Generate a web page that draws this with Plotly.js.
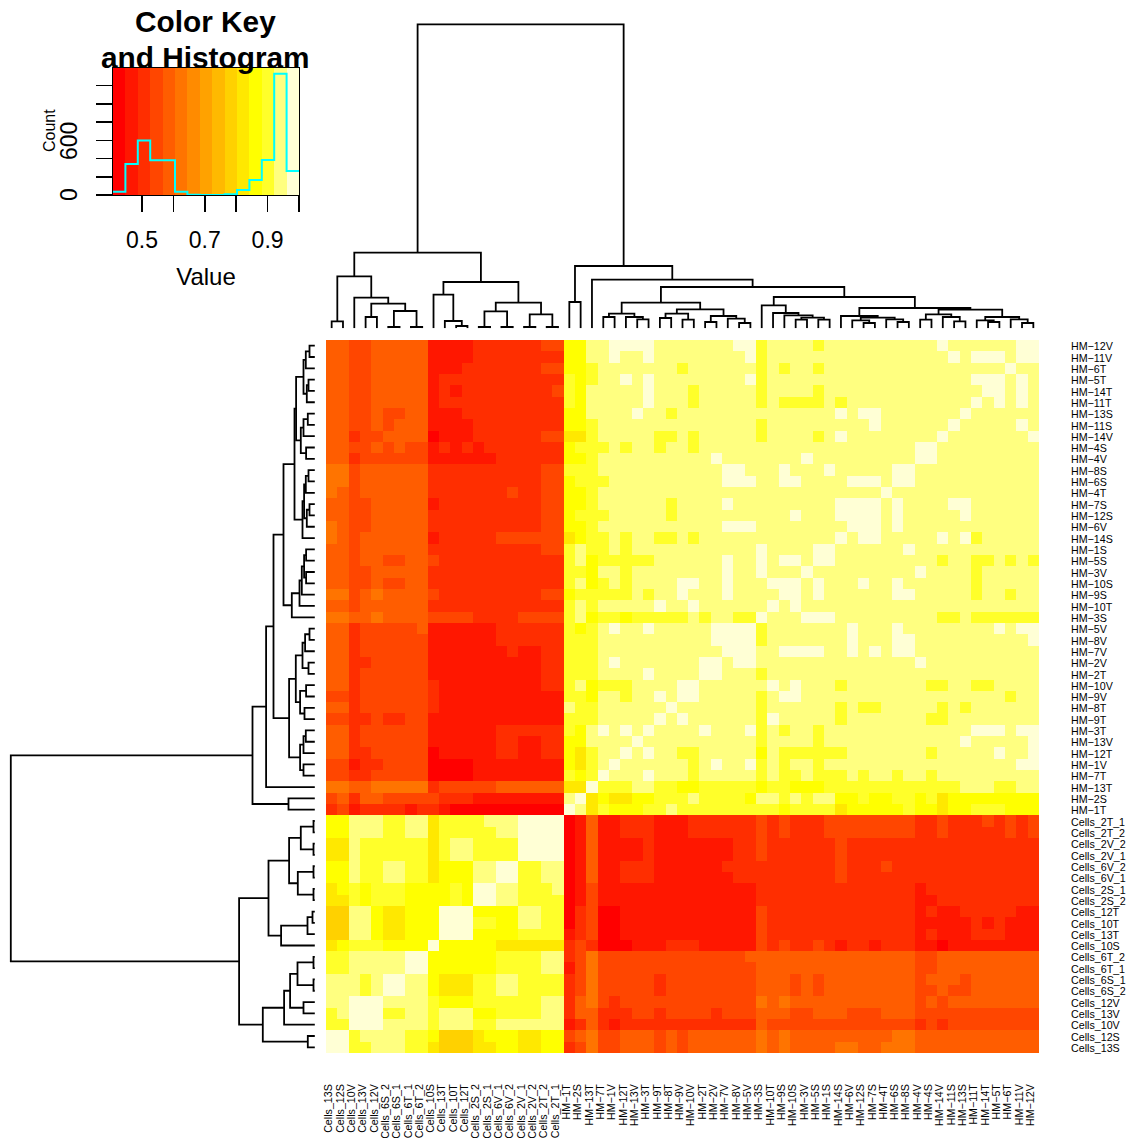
<!DOCTYPE html>
<html><head><meta charset="utf-8">
<script src="https://cdn.plot.ly/plotly-3.0.1.min.js"></script>
<style>html,body{margin:0;padding:0;background:#fff}</style>
</head><body><div id="chart" style="width:1137px;height:1138px"></div>
<script>
const rowLabels = ["HM−12V","HM−11V","HM−6T","HM−5T","HM−14T","HM−11T","HM−13S","HM−11S","HM−14V","HM−4S","HM−4V","HM−8S","HM−6S","HM−4T","HM−7S","HM−12S","HM−6V","HM−14S","HM−1S","HM−5S","HM−3V","HM−10S","HM−9S","HM−10T","HM−3S","HM−5V","HM−8V","HM−7V","HM−2V","HM−2T","HM−10V","HM−9V","HM−8T","HM−9T","HM−3T","HM−13V","HM−12T","HM−1V","HM−7T","HM−13T","HM−2S","HM−1T",
"Cells_2T_1","Cells_2T_2","Cells_2V_2","Cells_2V_1","Cells_6V_2","Cells_6V_1","Cells_2S_1","Cells_2S_2","Cells_12T","Cells_10T","Cells_13T","Cells_10S","Cells_6T_2","Cells_6T_1","Cells_6S_1","Cells_6S_2","Cells_12V","Cells_13V","Cells_10V","Cells_12S","Cells_13S"];
const colLabels = rowLabels.slice().reverse();

// heat.colors(15) bands of the key
const bandColors = ["#FF0000","#FF1700","#FF2E00","#FF4600","#FF5D00","#FF7400","#FF8B00","#FFA200","#FFB900","#FFD100","#FFE800","#FFFF00","#FFFF2A","#FFFF80","#FFFFD5"];
const keyMin = 0.4077, keyMax = 1.0;
const histCounts = [37,340,597,381,381,37,4,0,0,8,55,165,385,1330,264];

// Symmetric matrix: each row is "band:lastColumn" runs, up to the anti-diagonal
const bandRuns = [
"4:1 3:3 4:8 1:12 2:18 3:20 11:22 13:24 14:28 13:35 14:37 12:38 13:42 12:43 13:53 14:54 13:60 14:62",
"4:1 3:3 4:8 1:12 2:20 11:22 13:24 14:25 13:27 14:28 13:36 14:37 12:38 13:54 14:55 13:56 14:59 13:60 14:61",
"4:1 3:3 4:8 1:11 2:18 3:20 11:22 12:23 13:30 12:31 13:37 12:38 13:39 12:40 13:42 12:43 13:59 14:60",
"4:1 3:3 4:8 1:9 2:20 12:21 11:22 12:23 13:25 14:26 13:27 14:28 13:36 14:37 12:38 13:56 14:59",
"4:1 3:3 4:8 1:9 2:10 1:11 2:19 3:20 12:21 11:22 13:27 14:28 13:31 12:32 13:37 12:38 13:42 12:43 13:57 14:58",
"4:1 3:3 4:8 1:9 2:20 12:21 11:22 13:27 14:28 13:31 12:32 13:37 12:38 13:39 12:43 13:44 12:45 13:56 14:57",
"4:1 3:3 4:4 3:6 4:8 1:11 2:20 11:22 13:26 14:27 13:29 12:30 13:44 14:45 13:46 14:48 13:55 14:56",
"4:1 3:3 4:4 3:5 4:8 1:12 2:20 11:22 12:23 13:37 12:38 13:47 14:48 13:54 14:55",
"4:1 2:2 3:4 4:8 0:9 1:12 2:18 3:20 10:22 12:23 13:28 12:30 13:31 12:32 13:37 12:38 13:42 12:43 13:44 14:45 13:53 14:54",
"4:1 3:3 4:4 3:5 4:6 3:8 1:9 2:10 1:11 2:12 1:13 2:20 11:21 12:24 13:25 12:26 13:28 12:29 13:31 12:32 13:51 14:53",
"4:1 2:2 3:8 1:14 2:20 11:22 12:23 13:33 14:34 13:41 14:42 13:51 14:52",
"5:1 3:2 4:8 2:18 3:20 12:23 13:34 14:36 13:39 14:40 13:43 14:44 13:49 14:51",
"5:1 3:2 4:8 2:18 3:20 11:21 12:24 13:34 14:37 13:39 14:41 13:45 14:48 13:49 14:50",
"5:0 4:1 3:2 4:8 2:15 3:16 2:18 3:20 11:22 12:23 13:48 14:49",
"4:1 3:3 4:8 1:9 2:18 3:20 11:22 12:23 13:29 12:30 13:34 14:35 13:44 14:48",
"4:1 3:3 4:8 2:18 3:20 11:21 12:24 13:29 12:30 13:40 14:41 13:44 14:47",
"5:0 4:1 3:3 4:8 2:18 3:20 11:22 12:23 13:34 14:37 13:45 14:46",
"5:0 4:1 3:2 4:8 1:9 2:14 3:20 10:21 11:22 12:24 13:25 12:26 13:28 12:30 13:31 12:32 13:44 14:45",
"4:1 3:2 4:8 2:18 3:20 12:21 13:22 12:24 13:25 12:26 13:37 14:38 13:42 14:44",
"4:1 3:2 4:4 3:6 4:8 3:9 2:20 12:21 13:22 11:23 12:28 13:34 14:35 13:37 14:38 13:39 14:41 13:42 14:43",
"4:1 3:3 4:8 2:20 12:22 11:23 13:25 12:26 13:34 14:35 13:37 14:38 13:41 14:42",
"4:1 3:3 4:4 3:6 4:8 2:20 12:21 13:22 11:23 12:24 13:25 12:26 13:30 14:32 13:34 14:35 13:38 14:41",
"5:1 3:2 4:3 5:4 4:8 3:9 2:18 3:20 11:21 12:26 13:27 12:28 13:30 14:31 13:34 14:35 13:39 14:40",
"4:1 3:2 4:8 2:20 12:21 13:22 12:23 13:28 14:29 13:31 14:32 13:38 14:39",
"5:1 4:3 5:4 4:8 3:12 2:16 3:20 12:21 13:22 11:23 12:25 11:26 12:31 13:32 12:33 13:35 12:37 14:38",
"4:1 2:2 3:7 4:8 1:14 2:20 12:21 11:22 12:23 13:24 14:25 13:27 14:28 13:33 14:37",
"4:1 2:2 3:8 1:14 2:20 12:23 13:33 14:36",
"4:1 2:2 3:8 1:15 2:16 1:18 2:20 12:23 13:34 14:35",
"4:1 2:3 3:8 1:18 2:20 12:23 13:24 14:25 13:32 14:34",
"4:1 2:2 3:8 1:18 2:20 12:23 13:27 14:28 13:32 14:33",
"4:1 2:2 3:8 2:9 1:18 2:20 12:21 13:22 11:23 12:26 13:30 14:32",
"3:1 2:2 3:8 2:9 1:20 12:22 11:23 13:25 12:26 13:28 14:29 13:30 14:31",
"4:1 2:2 3:8 2:9 1:20 13:21 12:23 13:29 14:30",
"3:1 2:3 3:4 2:6 3:8 1:20 12:23 13:28 14:29",
"4:1 2:2 3:8 1:14 2:20 12:21 11:22 13:23 14:24 13:25 14:26 13:27 14:28",
"4:1 2:2 3:8 1:14 2:16 1:18 2:20 11:22 13:26 14:27",
"4:1 2:3 3:8 0:9 1:14 2:16 1:18 2:20 11:21 10:22 12:23 13:25 14:26",
"3:1 1:2 2:4 3:8 0:12 1:20 11:21 10:22 12:23 13:24 14:25",
"3:1 2:3 3:8 0:12 1:20 12:21 11:22 12:23 14:24",
"5:1 4:3 5:8 2:9 3:14 4:20 10:22 14:23",
"3:0 4:1 2:2 4:4 3:9 2:12 1:20 13:21 14:22",
"2:0 3:1 1:2 2:6 1:7 2:9 1:10 0:20 14:21",
"11:1 13:4 12:6 13:8 10:9 12:13 13:16 14:20",
"11:1 13:4 12:6 13:8 10:9 12:14 13:16 14:19",
"10:1 13:2 12:8 10:9 12:10 13:12 12:16 14:18",
"10:1 13:2 12:8 10:9 12:10 13:12 12:16 14:17",
"11:1 13:2 12:4 13:6 12:8 10:9 11:12 13:14 14:16",
"11:1 13:2 12:4 13:6 12:8 10:9 11:12 13:14 14:15",
"10:0 11:1 12:2 11:3 12:6 11:10 12:11 11:12 14:14",
"10:1 12:2 11:3 12:6 11:10 12:11 11:12 14:13",
"9:1 13:3 11:4 10:6 11:9 14:12",
"9:1 13:3 11:4 10:6 11:9 14:11",
"9:1 13:3 11:4 10:6 11:9 14:10",
"10:0 11:1 12:4 11:8 14:9",
"12:1 13:6 14:8",
"12:1 13:6 14:7",
"13:2 12:3 13:4 14:6",
"13:2 12:3 13:4 14:5",
"13:1 14:4",
"12:0 13:1 14:3",
"12:1 14:2",
"14:1",
"14:0"];

// Dendrogram (same tree for rows and columns): [height, left, right]; a leaf is a column index
const dendroLeft = [75.7,
  [52,[7,0,1],[30.7,2,[24.7,[11.3,3,4],[17.3,[1.3,5,6],[1.3,7,8]]]]],
  [46.3,[33.7,9,[7.3,10,[2.3,11,12]]],[25.7,[17,[1.3,13,14],[1.3,15,16]],[14,[1.3,17,18],[1.3,19,20]]]]];
const dendroGroupG = [14.7,[11.3,24,25],[11.3,26,[9,27,28]]];
const dendroGroupP = [19,[14.7,[10.3,29,30],[8.7,31,32]],[12.3,[6.3,33,34],[9.7,35,[5.3,36,37]]]];
const dendroGroupU1 = [23,38,[15.3,39,[13,40,[10.7,[8.7,41,42],[8.7,43,44]]]]];
const dendroGroupV = [12.3,45,[10.7,[8,46,[5.3,47,48]],[9,49,[6.3,50,51]]]];
const dendroGroupW = [18.7,[14,[8.7,52,53],[11.3,54,[7,55,56]]],[11.3,[8,57,[6.3,58,59]],[9,60,[5.3,61,62]]]];
const dendroRight = [62.3,[26.3,21,22],[48.7,23,[41.3,[25.7,dendroGroupG,dendroGroupP],[31.3,dendroGroupU1,[20.3,dendroGroupV,dendroGroupW]]]]];
const dendroRoot = [304,dendroLeft,dendroRight];

const W = 1137, H = 1138, N = 63;
const bandWidth = (keyMax-keyMin)/bandColors.length;
const bandValue = l => keyMin + (l+0.5)*bandWidth;
const Z = Array.from({length:N},()=>new Array(N).fill(null));
bandRuns.forEach((row,r)=>{
  let start=0;
  row.split(' ').forEach(tok=>{
    const [l,last]=tok.split(':').map(Number);
    for(let j=start;j<=last;j++){ Z[r][j]=bandValue(l); Z[62-j][62-r]=bandValue(l); }
    start=last+1;
  });
});
const colorscale=[];
bandColors.forEach((c,i)=>{colorscale.push([i/15,c]);colorscale.push([(i+1)/15,c]);});

const dx=[],dh=[];
function walk(n){
  if(typeof n==='number') return {p:n,h:0};
  const a=walk(n[1]), b=walk(n[2]), h=n[0];
  dx.push(a.p,a.p,b.p,b.p,null); dh.push(a.h,h,h,b.h,null);
  return {p:(a.p+b.p)/2,h};
}
walk(dendroRoot);
const indices=[...Array(N).keys()];
const edges=bandColors.map((_,i)=>keyMin+i*bandWidth).concat([keyMax]);
const font='"Liberation Sans", Arial, sans-serif';
const px=(a,b)=>[a/W,b/W], py=(a,b)=>[1-b/H,1-a/H];
const lineStyle={color:'#000',width:1.8};
const countTicks=[0,200,400,600,800,1000,1200];
const note=(x,y,text,size,angle)=>({xref:'paper',yref:'paper',x:x/W,y:1-y/H,xanchor:'center',yanchor:'middle',showarrow:false,text,textangle:angle||0,font:{family:font,size,color:'#000'}});

const traces=[
 {type:'heatmap',x:indices,y:indices,z:Z,xaxis:'x',yaxis:'y',colorscale,zmin:keyMin,zmax:keyMax,showscale:false,hoverinfo:'skip',zsmooth:false},
 {type:'scatter',mode:'lines',x:dx,y:dh,xaxis:'x2',yaxis:'y2',line:lineStyle,hoverinfo:'skip',showlegend:false,connectgaps:false},
 {type:'scatter',mode:'lines',x:dh,y:dx.map(v=>v===null?null:62-v),xaxis:'x3',yaxis:'y3',line:lineStyle,hoverinfo:'skip',showlegend:false,connectgaps:false},
 {type:'heatmap',x:edges,y:[0,1394],z:[bandColors.map((_,i)=>bandValue(i))],xaxis:'x4',yaxis:'y4',colorscale,zmin:keyMin,zmax:keyMax,showscale:false,hoverinfo:'skip',zsmooth:false},
 {type:'scatter',mode:'lines',x:edges,y:histCounts.concat(histCounts[14]),xaxis:'x4',yaxis:'y4',line:{color:'#00FFFF',width:2,shape:'hv'},hoverinfo:'skip',showlegend:false}
];
const hidden={visible:false,showgrid:false,zeroline:false,fixedrange:true};
const layout={
 width:W,height:H,autosize:false,margin:{l:0,r:0,t:0,b:0,pad:0},paper_bgcolor:'#fff',plot_bgcolor:'rgba(0,0,0,0)',showlegend:false,
 font:{family:font,color:'#000'},
 xaxis:{domain:px(326,1039),range:[-0.5,62.5],anchor:'y',tickmode:'array',tickvals:indices.map(v=>v-0.25),ticktext:colLabels,tickangle:-90,ticks:'',showgrid:false,zeroline:false,showline:false,ticklabelstandoff:28,ticklabeloverflow:'allow',tickfont:{family:font,size:10.7,color:'#000'},automargin:false},
 yaxis:{domain:py(340,1053),range:[62.5,-0.5],anchor:'x',side:'right',tickmode:'array',tickvals:indices.map(v=>v+0.08),ticktext:rowLabels,ticks:'',showgrid:false,zeroline:false,showline:false,ticklabelstandoff:31,ticklabeloverflow:'allow',tickfont:{family:font,size:10.7,color:'#000'},automargin:false},
 xaxis2:Object.assign({domain:px(326,1039),range:[-0.5,62.5],anchor:'y2'},hidden),
 yaxis2:Object.assign({domain:py(0,328.3),range:[0,328.3],anchor:'x2'},hidden),
 xaxis3:Object.assign({domain:px(0,316),range:[314.8,-1.2],anchor:'y3'},hidden),
 yaxis3:Object.assign({domain:py(340,1053),range:[62.5,-0.5],anchor:'x3'},hidden),
 xaxis4:{domain:px(113,299),range:[keyMin,keyMax],anchor:'y4',tickmode:'array',tickvals:[0.5,0.6,0.7,0.8,0.9,1.0],ticktext:['0.5','','0.7','','0.9',''],ticks:'outside',ticklen:16,tickwidth:1.5,tickcolor:'#000',showline:true,linecolor:'#000',linewidth:1,mirror:true,showgrid:false,zeroline:false,tickfont:{family:font,size:23,color:'#000'},ticklabelstandoff:8,title:{text:'Value',font:{family:font,size:24,color:'#000'},standoff:16}},
 yaxis4:{domain:py(68,195),range:[0,1394],anchor:'x4',tickmode:'array',tickvals:countTicks,showticklabels:false,ticks:'outside',ticklen:16,tickwidth:1.5,tickcolor:'#000',showline:true,linecolor:'#000',linewidth:1,mirror:true,showgrid:false,zeroline:false},
 annotations:[
  note(205.5,22,'<b>Color Key</b>',29.8),
  note(205.5,57,'<b>and Histogram</b>',29.8),
  note(49,131,'Count',16,-90),
  note(69,141,'600',23,-90),
  note(69,195,'0',23,-90)
 ]
};
Plotly.newPlot('chart',traces,layout,{staticPlot:true,displayModeBar:false});
</script></body></html>
